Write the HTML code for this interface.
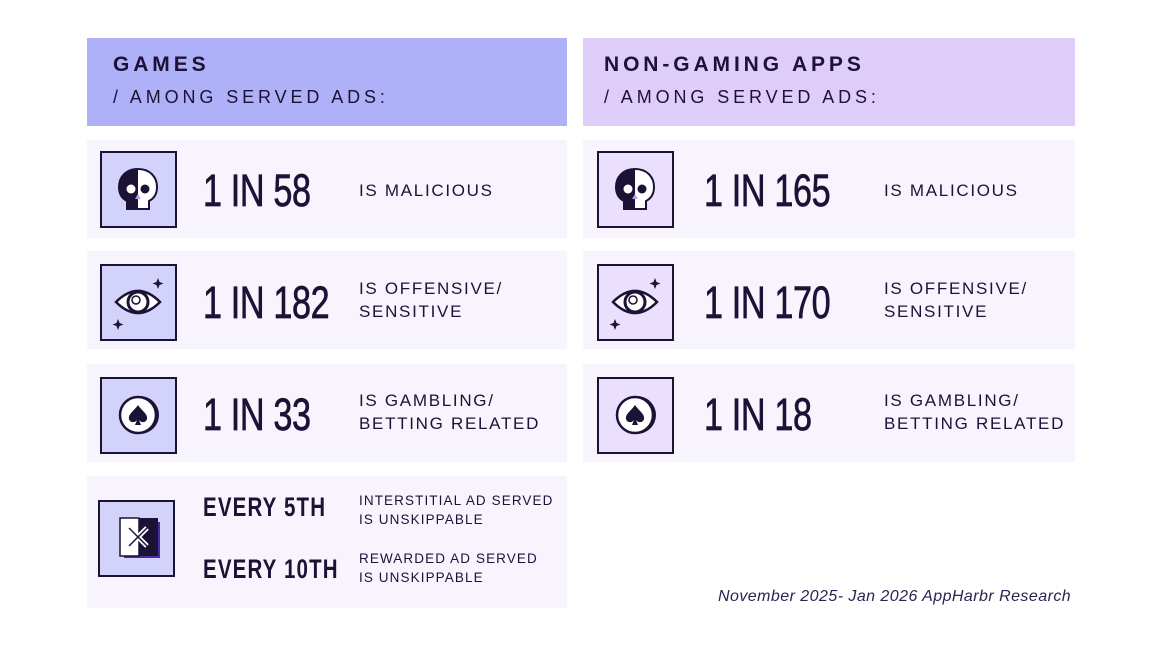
<!DOCTYPE html>
<html><head><style>
body{margin:0;width:1152px;height:648px;background:#fff;position:relative;font-family:"Liberation Sans",sans-serif;color:#1c1236;overflow:hidden}
.a{position:absolute}
.hd{background:#aeb0f8}
.hd2{background:#decdf8}
.row{background:#f7f4fd}
.h1{font-weight:bold;font-size:21px;letter-spacing:3.9px}
.h2{font-size:18px;letter-spacing:3.9px}
.big{font-size:45px;letter-spacing:-0.5px;line-height:1;transform:scaleX(0.76);transform-origin:left;white-space:nowrap;-webkit-text-stroke:0.7px #1c1236}
.lab{font-size:17px;letter-spacing:1.7px;line-height:23px}
.ib{position:absolute;width:73px;height:73px;border:2px solid #1c1236;background:#d2d2fb}
.ib2{background:#eadffc}
.ev{font-weight:bold;font-size:27px;letter-spacing:1.5px;transform:scaleX(0.76);transform-origin:left;white-space:nowrap}
.sm{font-size:13.5px;letter-spacing:1.1px;line-height:19px}
</style></head><body>
<div class="a hd" style="left:87px;top:38px;width:480px;height:88px"></div>
<div class="a hd2" style="left:583px;top:38px;width:492px;height:88px"></div>
<div class="a h1" style="left:113px;top:53px">GAMES</div>
<div class="a h2" style="left:113px;top:87px">/ AMONG SERVED ADS:</div>
<div class="a h1" style="left:604px;top:53px">NON-GAMING APPS</div>
<div class="a h2" style="left:604px;top:87px">/ AMONG SERVED ADS:</div>

<div class="a row" style="left:87px;top:140px;width:480px;height:98px"></div>
<div class="a row" style="left:87px;top:251px;width:480px;height:98px"></div>
<div class="a row" style="left:87px;top:364px;width:480px;height:98px"></div>
<div class="a row" style="left:87px;top:476px;width:480px;height:132px"></div>
<div class="a row" style="left:583px;top:140px;width:492px;height:98px"></div>
<div class="a row" style="left:583px;top:251px;width:492px;height:98px"></div>
<div class="a row" style="left:583px;top:364px;width:492px;height:98px"></div>

<svg width="0" height="0" style="position:absolute"><defs>
<g id="skull"><path d="M0-20C-12-20-19-12-19-2C-19 6-15 10-11 12V20H11V12C15 10 19 6 19-2C19-12 12-20 0-20Z" fill="#fff" stroke="#1c1236" stroke-width="2"/><path d="M0-20C-12-20-19-12-19-2C-19 6-15 10-11 12V20H0Z" fill="#1c1236"/><circle cx="-7" cy="0" r="4.5" fill="#fff"/><circle cx="7" cy="0" r="4.5" fill="#1c1236"/><path d="M0 5L-3 10H3Z" fill="#b9a0f0"/></g>
<g id="eye"><path d="M-22 0Q0-22 22 0Q0 22-22 0Z" fill="#fff" stroke="#1c1236" stroke-width="2.5"/><circle r="10" fill="none" stroke="#1c1236" stroke-width="3"/><circle cx="-2" cy="-2" r="4" fill="none" stroke="#1c1236" stroke-width="1.5"/><path d="M20-24l1.5 4 4 1.5-4 1.5-1.5 4-1.5-4-4-1.5 4-1.5Z" fill="#1c1236"/><path d="M-20 17l1.5 4 4 1.5-4 1.5-1.5 4-1.5-4-4-1.5 4-1.5Z" fill="#1c1236"/></g>
<g id="coin"><circle cx="2" r="19" fill="#1c1236"/><circle r="18" fill="#fff" stroke="#1c1236" stroke-width="2.5"/><path d="M0-10C-4-4-10-1-9 4C-8 8-3 8-1 5L-3 10H3L1 5C3 8 8 8 9 4C10-1 4-4 0-10Z" fill="#1c1236"/></g>
</defs></svg>
<div class="ib" style="left:100px;top:151px"><svg width="73" height="73"><use href="#skull" x="36" y="36"/></svg></div>
<div class="ib" style="left:100px;top:264px"><svg width="73" height="73"><use href="#eye" x="36" y="36"/></svg></div>
<div class="ib" style="left:100px;top:377px"><svg width="73" height="73"><use href="#coin" x="36" y="36"/></svg></div>
<div class="ib ib2" style="left:597px;top:151px"><svg width="73" height="73"><use href="#skull" x="36" y="36"/></svg></div>
<div class="ib ib2" style="left:597px;top:264px"><svg width="73" height="73"><use href="#eye" x="36" y="36"/></svg></div>
<div class="ib ib2" style="left:597px;top:377px"><svg width="73" height="73"><use href="#coin" x="36" y="36"/></svg></div>
<div class="ib" style="left:98px;top:500px"><svg width="73" height="73"><rect x="24" y="20" width="36" height="36" fill="#4b2aa8"/><rect x="20" y="16" width="38" height="38" fill="#1c1236"/><rect x="20" y="16" width="19" height="38" fill="#fff" stroke="#1c1236" stroke-width="1.5"/><path d="M29 26L47 44M47 26L29 44" stroke="#fff" stroke-width="5"/><path d="M29 26L47 44M47 26L29 44" stroke="#1c1236" stroke-width="1.5"/></svg></div>

<div class="a big" style="left:203px;top:168px">1 IN 58</div>
<div class="a big" style="left:203px;top:280px">1 IN 182</div>
<div class="a big" style="left:203px;top:392px">1 IN 33</div>
<div class="a big" style="left:704px;top:168px">1 IN 165</div>
<div class="a big" style="left:704px;top:280px">1 IN 170</div>
<div class="a big" style="left:704px;top:392px">1 IN 18</div>

<div class="a lab" style="left:359px;top:179px">IS MALICIOUS</div>
<div class="a lab" style="left:359px;top:277px">IS OFFENSIVE/<br>SENSITIVE</div>
<div class="a lab" style="left:359px;top:389px">IS GAMBLING/<br>BETTING RELATED</div>
<div class="a lab" style="left:884px;top:179px">IS MALICIOUS</div>
<div class="a lab" style="left:884px;top:277px">IS OFFENSIVE/<br>SENSITIVE</div>
<div class="a lab" style="left:884px;top:389px">IS GAMBLING/<br>BETTING RELATED</div>

<div class="a ev" style="left:203px;top:492px">EVERY 5TH</div>
<div class="a ev" style="left:203px;top:554px">EVERY 10TH</div>
<div class="a sm" style="left:359px;top:491px">INTERSTITIAL AD SERVED<br>IS UNSKIPPABLE</div>
<div class="a sm" style="left:359px;top:549px">REWARDED AD SERVED<br>IS UNSKIPPABLE</div>

<div class="a" style="left:718px;top:588px;font-size:16px;letter-spacing:0.45px;font-style:italic;color:#2a2350">November 2025- Jan 2026 AppHarbr Research</div>
</body></html>
